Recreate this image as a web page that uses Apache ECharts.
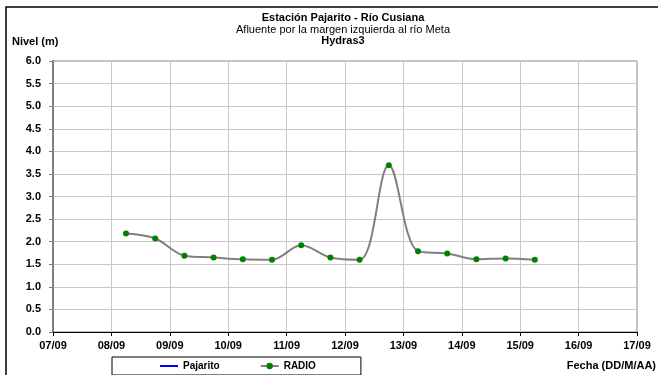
<!DOCTYPE html>
<html>
<head>
<meta charset="utf-8">
<script src="https://cdn.jsdelivr.net/npm/echarts@6/dist/echarts.min.js"></script>
<style>
	html,body{margin:0;padding:0;background:#fff;}
	#nivel{width:658px;height:375px;}
</style>
</head>
<body>
<div id="nivel"></div>
<script>
// fechas de lectura (DD/MM HH:mm) y nivel en metros
var fechas = ['08/09 06:00','08/09 18:00','09/09 06:00','09/09 18:00','10/09 06:00','10/09 18:00','11/09 06:00','11/09 18:00',
	'12/09 06:00','12/09 18:00','13/09 06:00','13/09 18:00','14/09 06:00','14/09 18:00','15/09 06:00'];
var radio = [2.18, 2.07, 1.69, 1.65, 1.61, 1.60, 1.92, 1.65, 1.60, 3.69, 1.79, 1.74, 1.61, 1.63, 1.60];
var pajarito = [];
var diaMin = 7, diaMax = 17;
var nivelMin = 0, nivelMax = 6, nivelPaso = 0.5;

var fuente = 'Arial, "Liberation Sans", sans-serif';

function aDia(f){
	var d = parseInt(f.substr(0,2),10);
	var h = parseInt(f.substr(6,2),10);
	var m = parseInt(f.substr(9,2),10);
	return d + (h + m/60)/24;
}

var puntos = [];
for(var i=0;i<fechas.length;i++){
	puntos.push([aDia(fechas[i]), radio[i]]);
}

var myChart = echarts.init(document.getElementById('nivel'));
var option = {
	animation: false,
	textStyle: {fontFamily: fuente},
	title: [{
		text: 'Estación Pajarito - Río Cusiana',
		left: 343, textAlign: 'center', top: 12, padding: 0,
		textStyle: {fontSize: 11, fontWeight: 'bold', color: '#000', fontFamily: fuente}
	},{
		text: 'Afluente por la margen izquierda al río Meta',
		left: 343, textAlign: 'center', top: 24, padding: 0,
		textStyle: {fontSize: 11, fontWeight: 'normal', color: '#000', fontFamily: fuente}
	},{
		text: 'Hydras3',
		left: 343, textAlign: 'center', top: 35, padding: 0,
		textStyle: {fontSize: 11, fontWeight: 'bold', color: '#000', fontFamily: fuente}
	}],
	legend: {
		// Pajarito sin marcador, solo la linea azul
		data: [{name: 'Pajarito', itemStyle: {opacity: 0}}, 'RADIO'],
		left: 112, top: 357,
		padding: [4, 45, 4, 47],
		itemGap: 40,
		itemWidth: 18, itemHeight: 8,
		borderColor: '#000', borderWidth: 1,
		textStyle: {fontSize: 10, fontWeight: 'bold', color: '#000', fontFamily: fuente}
	},
	grid: {
		left: 53, right: 21, top: 61, bottom: 43,
		show: true, borderColor: '#808080', borderWidth: 1
	},
	xAxis: {
		type: 'value',
		min: diaMin, max: diaMax, interval: 1,
		axisLine: {lineStyle: {color: '#000', width: 1}},
		axisTick: {show: true, length: 4, lineStyle: {color: '#000'}},
		axisLabel: {
			margin: 8, fontSize: 11, fontWeight: 'bold', color: '#000', fontFamily: fuente,
			formatter: function(v){ return (v<10?'0':'') + v + '/09'; }
		},
		splitLine: {show: true, lineStyle: {color: '#c8c8c8', width: 1}}
	},
	yAxis: {
		type: 'value',
		min: nivelMin, max: nivelMax, interval: nivelPaso,
		axisLine: {show: true, lineStyle: {color: '#808080', width: 2}},
		axisTick: {show: true, length: 4, lineStyle: {color: '#808080'}},
		axisLabel: {
			margin: 12, fontSize: 11, fontWeight: 'bold', color: '#000', fontFamily: fuente,
			formatter: function(v){ return v.toFixed(1); }
		},
		splitLine: {show: true, lineStyle: {color: '#c8c8c8', width: 1}}
	},
	graphic: [{
		type: 'rect', silent: true,
		shape: {x: 6, y: 7, width: 700, height: 420},
		style: {fill: 'none', stroke: '#000', lineWidth: 1.5}
	},{
		type: 'text', left: 12, top: 36,
		style: {text: 'Nivel (m)', fontSize: 11, fontWeight: 'bold', fill: '#000', fontFamily: fuente}
	},{
		type: 'text', right: 2, top: 360,
		style: {text: 'Fecha (DD/M/AA)', fontSize: 11, fontWeight: 'bold', fill: '#000', fontFamily: fuente}
	}],
	series: [
		{
			name: 'Pajarito', // sin datos, solo en la leyenda
			type: 'line',
			data: pajarito,
			symbol: 'none',
			lineStyle: {color: '#0000ff', width: 1.5},
			itemStyle: {color: '#0000ff'}
		},{
			name: 'RADIO',
			type: 'line',
			data: puntos,
			smooth: 0.35,
			symbol: 'circle', symbolSize: 6,
			lineStyle: {color: '#808080', width: 2},
			itemStyle: {color: '#008000'},
			z: 3
		}
	]
};
myChart.setOption(option);
</script>
</body>
</html>
